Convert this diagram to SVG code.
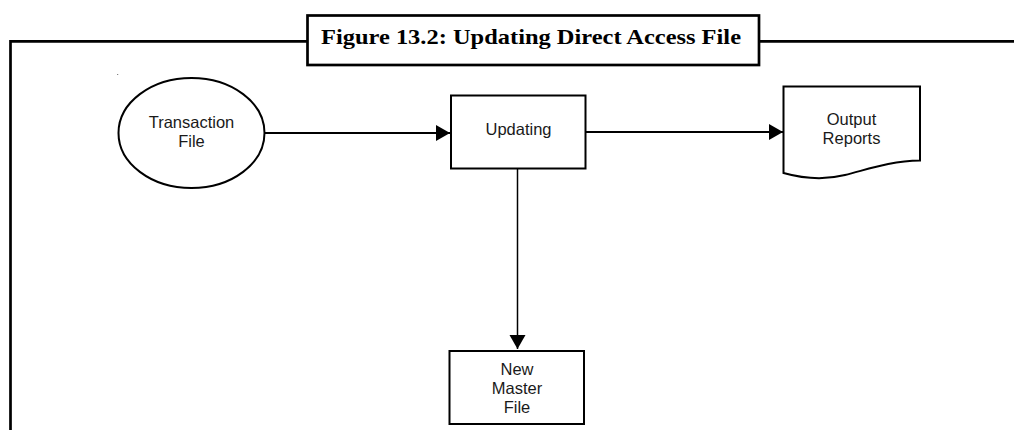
<svg xmlns="http://www.w3.org/2000/svg" width="1014" height="430" viewBox="0 0 1014 430">
  <defs>
    <style>
      .node { fill: #ffffff; stroke: #000000; stroke-width: 2; }
      .lbl { font-family: "Liberation Sans", Arial, sans-serif; font-size: 16.5px; fill: #1a1a1a; text-anchor: middle; }
      .conn { stroke: #000000; fill: none; }
      .frame { stroke: #000000; stroke-width: 2.7; fill: none; }
    </style>
    <marker id="arrow" markerUnits="userSpaceOnUse" markerWidth="15" markerHeight="17" refX="14" refY="8" orient="auto">
      <path d="M0,0 L14,8 L0,16 Z" fill="#000000"/>
    </marker>
  </defs>
  <rect width="1014" height="430" fill="#ffffff"/>

  <g id="frame">
    <path class="frame" d="M10.5,430 V41.3 H307 M759,41.3 H1014"/>
  </g>

  <g id="title">
    <rect x="307.5" y="15.5" width="451.5" height="49.5" fill="#ffffff" stroke="#000000" stroke-width="2.7"/>
    <text x="531" y="44" font-family="'Liberation Serif', 'Times New Roman', serif" font-weight="bold" font-size="22" text-anchor="middle" textLength="420" lengthAdjust="spacingAndGlyphs" fill="#000000">Figure 13.2: Updating Direct Access File</text>
  </g>

  <circle cx="117.7" cy="74.5" r="0.6" fill="#555555"/>

  <g id="connectors">
    <line class="conn" x1="264.5" y1="133" x2="450" y2="133" stroke-width="2" marker-end="url(#arrow)"/>
    <line class="conn" x1="586" y1="132" x2="783" y2="132" stroke-width="2" marker-end="url(#arrow)"/>
    <line class="conn" x1="517.5" y1="168.5" x2="517.5" y2="349" stroke-width="1.5" marker-end="url(#arrow)"/>
  </g>

  <g id="transaction-file">
    <ellipse class="node" cx="191.5" cy="133" rx="73" ry="55"/>
    <text class="lbl" x="191.5" y="128">Transaction</text>
    <text class="lbl" x="191.5" y="147">File</text>
  </g>

  <g id="updating">
    <rect class="node" x="451" y="95.5" width="134.5" height="73"/>
    <text class="lbl" x="518.5" y="134.5">Updating</text>
  </g>

  <g id="output-reports">
    <path class="node" d="M783.5,86.5 H920 V160.5 C890,161 866,170 845,175 C825,180 805,179 783.5,173 Z"/>
    <text class="lbl" x="851.5" y="125">Output</text>
    <text class="lbl" x="851.5" y="144">Reports</text>
  </g>

  <g id="new-master-file">
    <rect class="node" x="449.5" y="351" width="134.5" height="73"/>
    <text class="lbl" x="517" y="374.5">New</text>
    <text class="lbl" x="517" y="393.5">Master</text>
    <text class="lbl" x="517" y="412.5">File</text>
  </g>
</svg>
